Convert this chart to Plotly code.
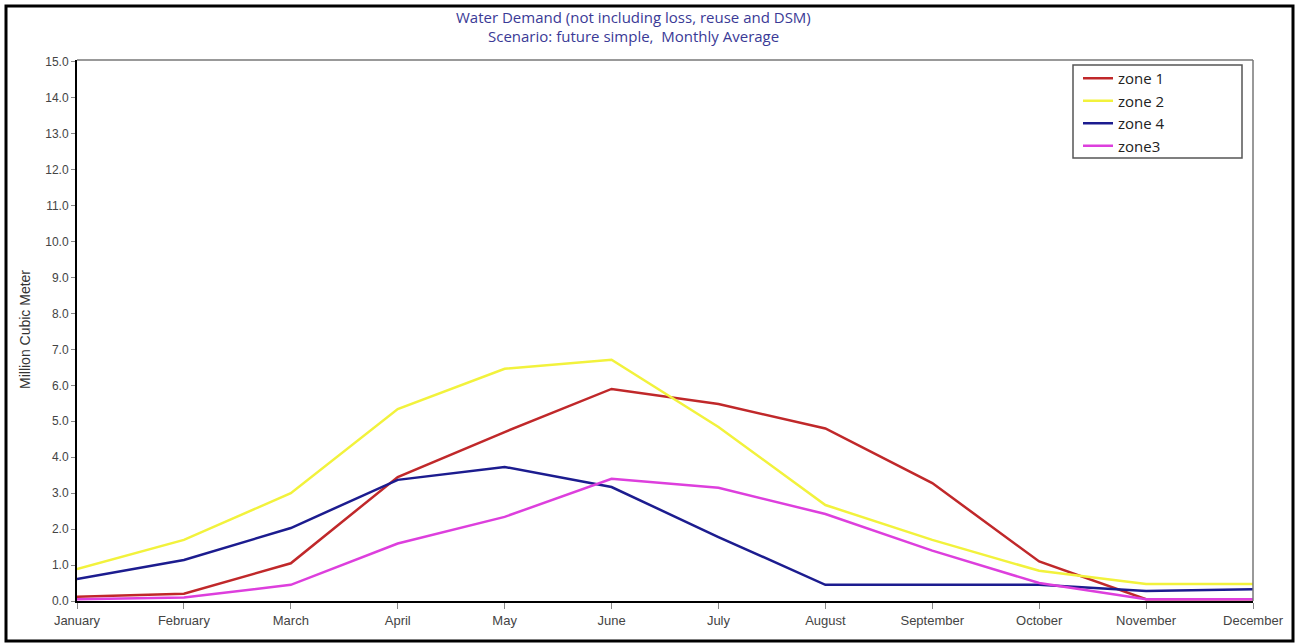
import plotly.graph_objects as go

months = ["January", "February", "March", "April", "May", "June", "July",
          "August", "September", "October", "November", "December"]
zone1 = [0.12, 0.2, 1.05, 3.45, 4.7, 5.9, 5.48, 4.8, 3.28, 1.1, 0.05, 0.05]
zone2 = [0.89, 1.7, 3.0, 5.34, 6.46, 6.71, 4.84, 2.67, 1.7, 0.84, 0.47, 0.47]
zone4 = [0.61, 1.14, 2.03, 3.37, 3.73, 3.17, 1.78, 0.45, 0.45, 0.45, 0.28, 0.33]
zone3 = [0.05, 0.1, 0.45, 1.6, 2.34, 3.4, 3.15, 2.42, 1.4, 0.5, 0.05, 0.05]
y_ticks = [i * 1.0 for i in range(16)]
title_lines = ["Water Demand (not including loss, reuse and DSM)",
               "Scenario: future simple,  Monthly Average"]

series = [
    ("zone 1", zone1, "#C0282A"),
    ("zone 2", zone2, "#F2F23C"),
    ("zone 4", zone4, "#1C1C8F"),
    ("zone3", zone3, "#DD3FDD"),
]

fig = go.Figure()
for name, vals, col in series:
    fig.add_trace(go.Scatter(x=list(range(len(months))), y=vals, name=name,
                             mode="lines", line=dict(color=col, width=2.5)))

W, H = 1296, 644
L, R, T, B = 77, 43, 60, 43
pw, ph = W - L - R, H - T - B

def px(x):
    return (x - L) / pw

def py(y):
    return (H - B - y) / ph

annotations = [dict(text="Million Cubic Meter", x=px(25), y=py(330), xref="paper", yref="paper",
                    textangle=-90, showarrow=False, xanchor="center", yanchor="middle",
                    font=dict(family="Liberation Sans", size=14, color="#333"))]
for line_text, ypix in zip(title_lines, [17, 36]):
    annotations.append(dict(text=line_text, x=px(633), y=py(ypix), xref="paper", yref="paper",
                            showarrow=False, xanchor="center", yanchor="middle",
                            font=dict(family="Open Sans", size=15, color="#3A3A96")))

fig.update_layout(
    width=W, height=H,
    margin=dict(l=L, r=R, t=T, b=B),
    paper_bgcolor="white", plot_bgcolor="white",
    showlegend=True,
    legend=dict(x=px(1078), y=py(62), xanchor="left", yanchor="top",
                bgcolor="rgba(0,0,0,0)", borderwidth=0,
                font=dict(family="Open Sans", size=15, color="#222"),
                tracegroupgap=0, itemwidth=30),
    xaxis=dict(range=[0, 11], tickmode="array", tickvals=list(range(12)), ticktext=months,
               showgrid=False, zeroline=False, showline=True, linecolor="black", linewidth=2,
               ticks="outside", ticklen=6, tickcolor="#888", tickwidth=1,
               tickfont=dict(family="Liberation Sans", size=13, color="#444")),
    yaxis=dict(range=[0, 15.05], tickmode="array", tickvals=y_ticks,
               ticktext=[f"{v:.1f}" for v in y_ticks],
               showgrid=False, zeroline=False, showline=True, linecolor="black", linewidth=2,
               ticks="outside", ticklen=4, tickcolor="#888", tickwidth=1,
               tickfont=dict(family="Liberation Sans", size=12, color="#444")),
    annotations=annotations,
    shapes=[
        dict(type="line", xref="paper", yref="paper", x0=0, x1=1, y0=1, y1=1,
             line=dict(color="#777", width=1.5)),
        dict(type="line", xref="paper", yref="paper", x0=1, x1=1, y0=0, y1=1,
             line=dict(color="#777", width=1.5)),
        dict(type="rect", xref="paper", yref="paper", x0=px(1073), x1=px(1242), y0=py(158), y1=py(65),
             line=dict(color="#555", width=1.5)),
        dict(type="rect", xref="paper", yref="paper", x0=px(6), x1=px(1293), y0=py(641), y1=py(6),
             line=dict(color="black", width=3), layer="above"),
    ],
)

fig.write_html("out.html")
